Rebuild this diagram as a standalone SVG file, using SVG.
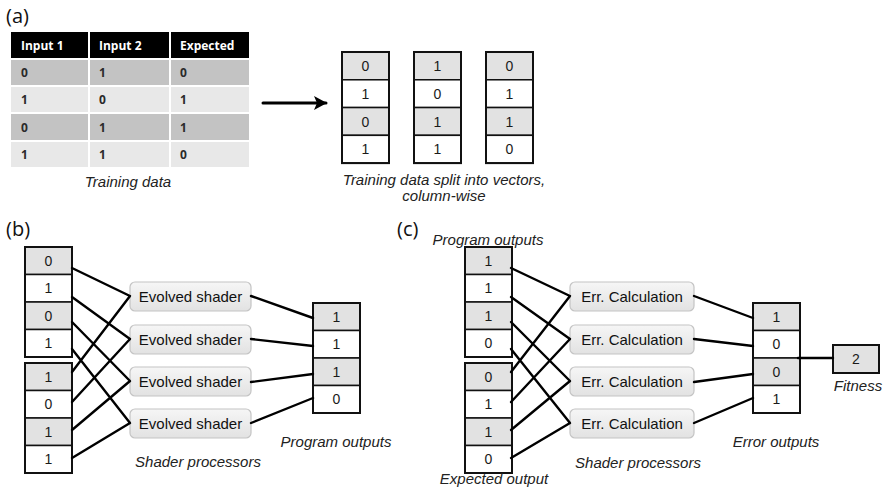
<svg xmlns="http://www.w3.org/2000/svg" width="886" height="491" viewBox="0 0 886 491">
<defs>
<style>
.lbl{font-family:"Open Sans","Noto Sans",sans-serif;font-size:20px;fill:#111}
.cap{font-family:"Liberation Sans",Arial,sans-serif;font-size:15px;font-style:italic;fill:#222;text-anchor:middle}
.th{font-family:"Open Sans","Noto Sans",sans-serif;font-size:12px;font-weight:bold;fill:#fff}
.td{font-family:"Open Sans","Noto Sans",sans-serif;font-size:12px;font-weight:bold;fill:#2a2a2a}
.dig{font-family:"Liberation Sans",Arial,sans-serif;font-size:14px;fill:#1a1a1a;text-anchor:middle}
.proc{font-family:"Liberation Sans",Arial,sans-serif;font-size:15px;fill:#111;text-anchor:middle}
.cg{fill:#e2e2e2;stroke:#111;stroke-width:1.5}
.cw{fill:#fff;stroke:#111;stroke-width:1.5}
.vo{fill:none;stroke:#111;stroke-width:2}
.box{fill:url(#g);stroke:#c4c4c4;stroke-width:1.2}
.cn{stroke:#000;stroke-width:2.4;fill:none;stroke-linecap:round}
.rd{fill:#c3c3c3}
.rl{fill:#e8e8e8}
</style>
<linearGradient id="g" x1="0" y1="0" x2="0" y2="1">
<stop offset="0" stop-color="#f6f6f6"/>
<stop offset="1" stop-color="#e2e2e2"/>
</linearGradient>
<marker id="ah" markerWidth="14" markerHeight="14" refX="12" refY="7" orient="auto" markerUnits="userSpaceOnUse">
<path d="M0,0 L13,7 L0,14 L3,7 Z" fill="#000"/>
</marker>
<g id="vec4">
<rect class="cg" x="0" y="0" width="47" height="27.5"/>
<rect class="cw" x="0" y="27.5" width="47" height="27.5"/>
<rect class="cg" x="0" y="55" width="47" height="27.5"/>
<rect class="cw" x="0" y="82.5" width="47" height="27.5"/>
<rect class="vo" x="0" y="0" width="47" height="110"/>
</g>
</defs>
<rect width="886" height="491" fill="#fff"/>

<!-- panel labels -->
<text class="lbl" x="6" y="23">(a)</text>
<text class="lbl" x="6" y="236">(b)</text>
<text class="lbl" x="397" y="236">(c)</text>

<!-- (a) table -->
<g id="table">
<rect x="11" y="32" width="238" height="26" fill="#000"/>
<rect class="rd" x="11" y="60" width="238" height="25"/>
<rect class="rl" x="11" y="87" width="238" height="25"/>
<rect class="rd" x="11" y="114" width="238" height="26"/>
<rect class="rl" x="11" y="142" width="238" height="25"/>
<rect x="88" y="32" width="2" height="135" fill="#fff"/>
<rect x="169" y="32" width="2" height="135" fill="#fff"/>
<text class="th" x="21" y="50">Input 1</text>
<text class="th" x="99" y="50">Input 2</text>
<text class="th" x="180" y="50">Expected</text>
<text class="td" x="21" y="77">0</text><text class="td" x="99" y="77">1</text><text class="td" x="180" y="77">0</text>
<text class="td" x="21" y="104">1</text><text class="td" x="99" y="104">0</text><text class="td" x="180" y="104">1</text>
<text class="td" x="21" y="132">0</text><text class="td" x="99" y="132">1</text><text class="td" x="180" y="132">1</text>
<text class="td" x="21" y="159">1</text><text class="td" x="99" y="159">1</text><text class="td" x="180" y="159">0</text>
<text class="cap" x="128" y="187">Training data</text>
</g>

<!-- (a) vectors -->
<g id="vecA1">
<use href="#vec4" transform="translate(342,52) scale(1,1.01)"/>
<text class="dig" x="365.5" y="71">0</text><text class="dig" x="365.5" y="99">1</text><text class="dig" x="365.5" y="127">0</text><text class="dig" x="365.5" y="154">1</text>
</g>
<g id="vecA2">
<use href="#vec4" transform="translate(414,52) scale(1,1.01)"/>
<text class="dig" x="437.5" y="71">1</text><text class="dig" x="437.5" y="99">0</text><text class="dig" x="437.5" y="127">1</text><text class="dig" x="437.5" y="154">1</text>
</g>
<g id="vecA3">
<use href="#vec4" transform="translate(486,52) scale(1,1.01)"/>
<text class="dig" x="509.5" y="71">0</text><text class="dig" x="509.5" y="99">1</text><text class="dig" x="509.5" y="127">1</text><text class="dig" x="509.5" y="154">0</text>
</g>
<text class="cap" x="444" y="185">Training data split into vectors,</text>
<text class="cap" x="444" y="201">column-wise</text>

<!-- (b) nodes -->
<g id="b_in1">
<use href="#vec4" x="25" y="247"/>
<text class="dig" x="48.5" y="266">0</text><text class="dig" x="48.5" y="293">1</text><text class="dig" x="48.5" y="321">0</text><text class="dig" x="48.5" y="348">1</text>
</g>
<g id="b_in2">
<use href="#vec4" x="25" y="363"/>
<text class="dig" x="48.5" y="382">1</text><text class="dig" x="48.5" y="409">0</text><text class="dig" x="48.5" y="437">1</text><text class="dig" x="48.5" y="464">1</text>
</g>
<g id="b_sh1"><rect class="box" x="130" y="282" width="121" height="29" rx="5"/><text class="proc" x="190.5" y="302">Evolved shader</text></g>
<g id="b_sh2"><rect class="box" x="130" y="325" width="121" height="29" rx="5"/><text class="proc" x="190.5" y="345">Evolved shader</text></g>
<g id="b_sh3"><rect class="box" x="130" y="367" width="121" height="29" rx="5"/><text class="proc" x="190.5" y="387">Evolved shader</text></g>
<g id="b_sh4"><rect class="box" x="130" y="409" width="121" height="29" rx="5"/><text class="proc" x="190.5" y="429">Evolved shader</text></g>
<g id="b_out">
<use href="#vec4" x="313" y="303"/>
<text class="dig" x="336.5" y="322">1</text><text class="dig" x="336.5" y="349">1</text><text class="dig" x="336.5" y="377">1</text><text class="dig" x="336.5" y="404">0</text>
</g>
<text class="cap" x="336" y="447">Program outputs</text>
<text class="cap" x="198" y="467">Shader processors</text>

<!-- (c) nodes -->
<g id="c_in1">
<use href="#vec4" x="465" y="247"/>
<text class="dig" x="488.5" y="266">1</text><text class="dig" x="488.5" y="293">1</text><text class="dig" x="488.5" y="321">1</text><text class="dig" x="488.5" y="348">0</text>
</g>
<g id="c_in2">
<use href="#vec4" x="465" y="363"/>
<text class="dig" x="488.5" y="382">0</text><text class="dig" x="488.5" y="409">1</text><text class="dig" x="488.5" y="437">1</text><text class="dig" x="488.5" y="464">0</text>
</g>
<g id="c_e1"><rect class="box" x="570" y="282" width="124" height="29" rx="5"/><text class="proc" x="632" y="302">Err. Calculation</text></g>
<g id="c_e2"><rect class="box" x="570" y="325" width="124" height="29" rx="5"/><text class="proc" x="632" y="345">Err. Calculation</text></g>
<g id="c_e3"><rect class="box" x="570" y="367" width="124" height="29" rx="5"/><text class="proc" x="632" y="387">Err. Calculation</text></g>
<g id="c_e4"><rect class="box" x="570" y="409" width="124" height="29" rx="5"/><text class="proc" x="632" y="429">Err. Calculation</text></g>
<g id="c_out">
<use href="#vec4" x="753" y="303"/>
<text class="dig" x="776.5" y="322">1</text><text class="dig" x="776.5" y="349">0</text><text class="dig" x="776.5" y="377">0</text><text class="dig" x="776.5" y="404">1</text>
</g>
<g id="c_fit">
<rect class="cg" x="833" y="345" width="46" height="28" style="stroke-width:2"/>
<text class="dig" x="856" y="364">2</text>
</g>
<text class="cap" x="488" y="245">Program outputs</text>
<text class="cap" x="494" y="484">Expected output</text>
<text class="cap" x="638" y="468">Shader processors</text>
<text class="cap" x="776" y="447">Error outputs</text>
<text class="cap" x="858" y="391">Fitness</text>

<!-- connectors -->
<g id="connectors">
<line class="cn" x1="263" y1="103" x2="326" y2="103" style="stroke-width:3" marker-end="url(#ah)"/>
<path class="cn" d="M72,268 L130,296 M72,297 L130,339 M72,322 L130,381 M72,349 L130,423 M72,372 L130,296 M72,402 L130,339 M72,430 L130,381 M72,458 L130,423"/>
<path class="cn" d="M251,296 L313,318 M251,339 L313,346 M251,382 L313,374 M251,423 L313,398"/>
<path class="cn" d="M511,268 L570,296 M511,297 L570,339 M511,322 L570,381 M511,349 L570,423 M511,372 L570,296 M511,402 L570,339 M511,430 L570,381 M511,458 L570,423"/>
<path class="cn" d="M694,296 L753,318 M694,339 L753,346 M694,382 L753,374 M694,423 L753,398"/>
<line class="cn" x1="798" y1="358" x2="833" y2="358"/>
</g>
</svg>
